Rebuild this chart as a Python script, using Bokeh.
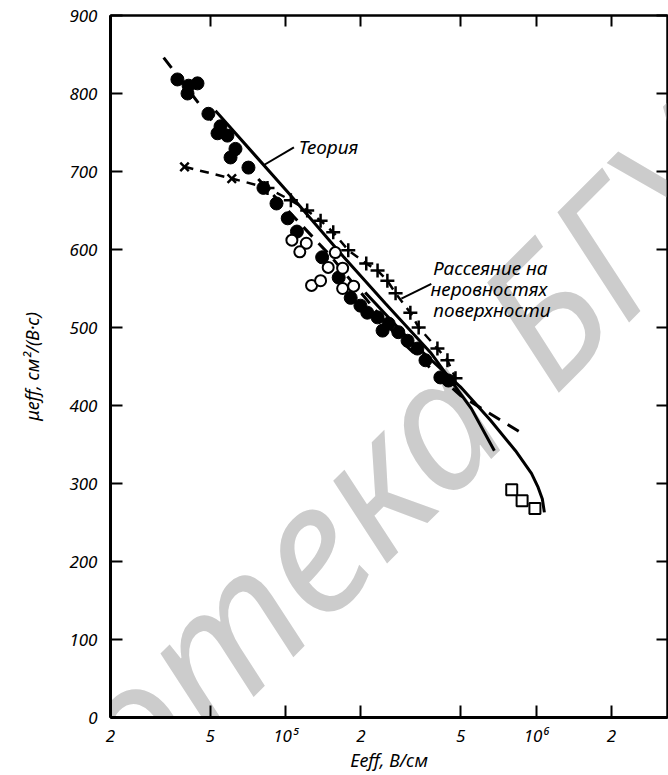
import math
from bokeh.plotting import figure
from bokeh.models import LogAxis, LinearAxis, FixedTicker, Range1d, Label
from bokeh.embed import file_html
from bokeh.resources import INLINE

# ---------------- data (E in V/cm, mu in cm^2/(V*s)) ----------------
filled_E = [3.70e4, 4.10e4, 4.45e4, 4.06e4, 4.92e4, 5.50e4, 5.35e4, 5.86e4, 6.31e4, 6.03e4,
            7.11e4, 8.16e4, 9.2e4, 1.02e5, 1.11e5, 1.40e5, 1.63e5, 1.82e5, 1.99e5, 2.12e5,
            2.33e5, 2.44e5, 2.58e5, 2.82e5, 3.07e5, 3.36e5, 3.62e5, 4.15e5, 4.47e5]
filled_mu = [818, 810, 813, 800, 774, 758, 749, 746, 729, 718,
             705, 679, 659, 640, 623, 590, 564, 538, 528, 519,
             513, 496, 505, 494, 483, 473, 458, 436, 432]

open_E = [1.06e5, 1.21e5, 1.14e5, 1.58e5, 1.48e5, 1.69e5, 1.27e5, 1.38e5, 1.69e5, 1.87e5]
open_mu = [612, 608, 597, 596, 577, 576, 554, 560, 550, 553]

xmark_E = [3.95e4, 6.1e4]
xmark_mu = [706, 691]

plus_E = [8.47e4, 1.05e5, 1.22e5, 1.38e5, 1.55e5, 1.78e5, 2.10e5, 2.33e5, 2.55e5, 2.75e5,
          3.15e5, 3.40e5, 4.04e5, 4.43e5, 4.77e5]
plus_mu = [679, 663, 650, 637, 622, 599, 582, 573, 560, 544, 519, 500, 473, 458, 435]

square_E = [8.0e5, 8.8e5, 9.9e5]
square_mu = [292, 278, 268]

theory_E = [5.25e4, 1.03e5, 1.70e5, 2.50e5, 3.79e5, 5.52e5, 6.82e5]
theory_mu = [778, 672, 591, 531, 468, 396, 342]

rough_E = [2.08e5, 3.15e5, 4.99e5, 6.58e5, 8.28e5, 9.59e5, 1.02e6, 1.06e6, 1.08e6]
rough_mu = [545, 483, 424, 381, 342, 313, 295, 280, 263]

fit_E = [3.26e4, 7.24e4, 1.51e5, 2.88e5, 4.99e5, 8.83e5]
fit_mu = [846, 701, 592, 483, 413, 364]

x_ticks = [2e4, 5e4, 1e5, 2e5, 5e5, 1e6, 2e6]
x_tick_labels = ["2", "5", "10\u2075", "2", "5", "10\u2076", "2"]
y_ticks = [0, 100, 200, 300, 400, 500, 600, 700, 800, 900]

FONT = "Noto Sans"

p = figure(width=668, height=775, x_axis_type="log",
           x_range=Range1d(2e4, 3.35e6), y_range=Range1d(0, 900),
           output_backend="svg", toolbar_location=None,
           min_border_left=110, min_border_right=1, min_border_top=15, min_border_bottom=58)
p.grid.visible = False
p.outline_line_color = "black"
p.outline_line_width = 2
p.background_fill_color = "white"
p.border_fill_color = "white"

# watermark
for txt, ex, my, al in [("Библиотека", 5.37e5, 428, "right"), ("БГУИР", 7.55e5, 474, "left")]:
    p.add_layout(Label(x=ex, y=my, text=txt, angle=math.pi / 4, text_align=al,
                       text_baseline="alphabetic", text_font=FONT, text_font_style="italic",
                       text_font_size="180px", text_color="#cccccc", level="underlay"))

# axes
xa = p.xaxis[0]
xa.ticker = FixedTicker(ticks=x_ticks, minor_ticks=[])
xa.major_label_overrides = {t: l for t, l in zip(x_ticks, x_tick_labels)}
ya = p.yaxis[0]
ya.ticker = FixedTicker(ticks=y_ticks, minor_ticks=[])
for ax in (xa, ya):
    ax.axis_line_width = 3
    ax.major_tick_line_width = 2
    ax.major_tick_in = 12
    ax.major_tick_out = 0
    ax.minor_tick_line_color = None
    ax.major_label_text_font = FONT
    ax.major_label_text_font_style = "italic"
    ax.major_label_text_font_size = "17px"
    ax.major_label_text_color = "black"
    ax.axis_label_text_font = FONT
    ax.axis_label_text_font_style = "italic"
    ax.axis_label_text_font_size = "18px"
    ax.axis_label_text_color = "black"
xa.major_label_standoff = 6
ya.major_label_standoff = 13
xa.axis_label = "Eeff, В/см"
xa.axis_label_standoff = -2
ya.axis_label = "μeff, см²/(В·с)"
ya.axis_label_standoff = 22

top = LogAxis(ticker=FixedTicker(ticks=x_ticks, minor_ticks=[]),
              major_label_overrides={t: "" for t in x_ticks},
              major_tick_in=11, major_tick_out=0, major_label_standoff=0,
              axis_line_width=2, major_tick_line_width=2, minor_tick_line_color=None)
p.add_layout(top, "above")
right = LinearAxis(ticker=FixedTicker(ticks=y_ticks, minor_ticks=[]),
                   major_label_overrides={t: "" for t in y_ticks},
                   major_tick_in=11, major_tick_out=0, major_label_standoff=0,
                   axis_line_width=2, major_tick_line_width=2, minor_tick_line_color=None)
p.add_layout(right, "right")

# lines
p.line(fit_E, fit_mu, line_color="black", line_width=3, line_dash="13 9")
p.line(xmark_E + plus_E, xmark_mu + plus_mu, line_color="black", line_width=2.5, line_dash="9 7")
p.line(theory_E, theory_mu, line_color="black", line_width=3)
p.line(rough_E, rough_mu, line_color="black", line_width=3)

# markers
p.scatter(filled_E, filled_mu, marker="circle", size=13, fill_color="black", line_color="black")
p.scatter(open_E, open_mu, marker="circle", size=11, fill_color="white", line_color="black", line_width=2)
p.scatter(xmark_E, xmark_mu, marker="x", size=12, line_color="black", line_width=2.5)
p.scatter(plus_E, plus_mu, marker="cross", size=14, line_color="black", line_width=2.5)
p.scatter(square_E, square_mu, marker="square", size=11, fill_color="white", line_color="black", line_width=2)

# pointers
p.line([1.08e5, 8.17e4], [731, 708], line_color="black", line_width=2)
p.line([3.82e5, 2.90e5], [556, 537], line_color="black", line_width=2)

def lab(x, y, t, size="19px", **kw):
    p.add_layout(Label(x=x, y=y, text=t, text_font=FONT, text_font_style="italic",
                       text_font_size=size, text_color="black", **kw))

lab(1.126e5, 731, "Теория", text_baseline="middle")
lab(3.89e5, 576, "Рассеяние на", text_baseline="middle")
lab(3.79e5, 549, "неровностях", text_baseline="middle")
lab(3.89e5, 523, "поверхности", text_baseline="middle")

open("out.html", "w").write(file_html(p, INLINE))
